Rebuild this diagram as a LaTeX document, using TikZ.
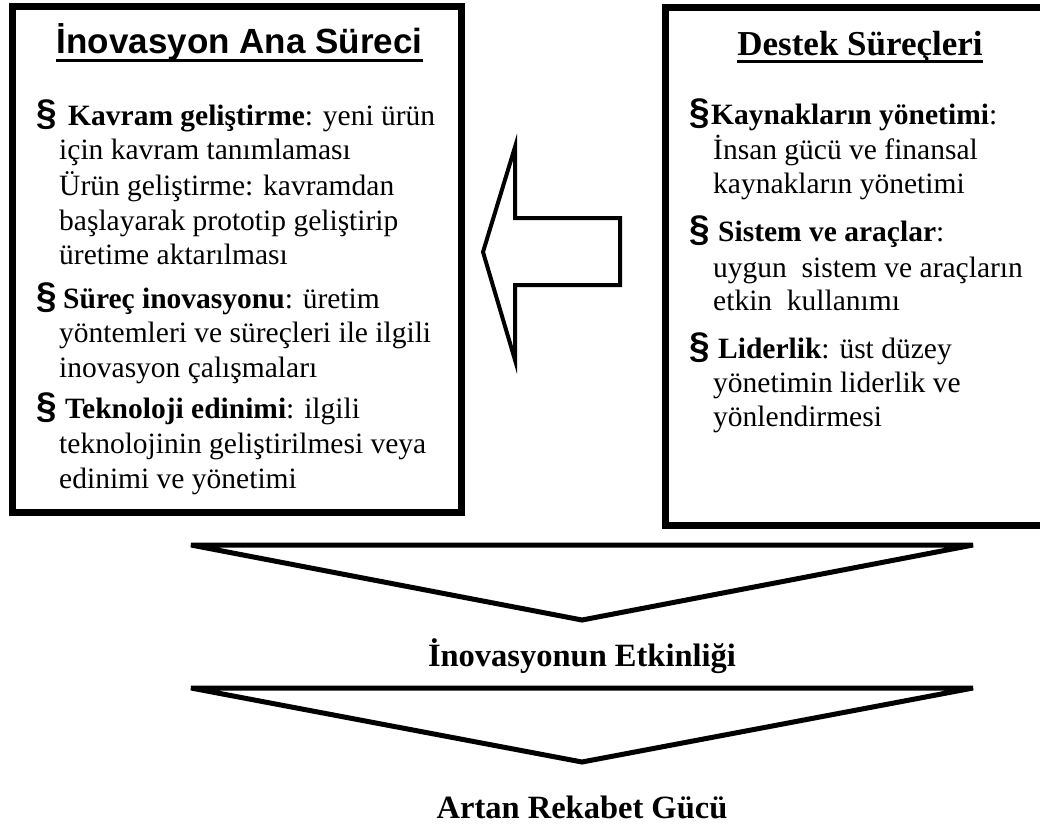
\documentclass[tikz,border=0pt]{standalone}
\usepackage{fontspec}
\setmainfont{Liberation Serif}
\newfontfamily\arialf{Liberation Sans}
\tikzset{
  boxline/.style={line width=7pt, line join=miter},
  chevline/.style={line width=5pt, line join=miter},
  arrline/.style={line width=4pt, line join=miter},
  uline/.style={line width=3pt},
  txt/.style={anchor=base west, inner sep=0pt, font=\fontsize{29.5}{34}\selectfont},
  bul/.style={anchor=base west, inner sep=0pt, font=\arialf\bfseries\fontsize{37}{37}\selectfont},
  ltitle/.style={anchor=base, inner sep=0pt, font=\arialf\bfseries\fontsize{35}{40}\selectfont},
  rtitle/.style={anchor=base, inner sep=0pt, font=\bfseries\fontsize{35}{40}\selectfont},
  btitle/.style={anchor=base, inner sep=0pt, font=\bfseries\fontsize{32.5}{38}\selectfont},
}
\begin{document}
\begin{tikzpicture}[x=1pt,y=-1pt]
\useasboundingbox (0,0) rectangle (1040,828);
\clip (0,0) rectangle (1040,828);
\fill[white] (0,0) rectangle (1040,828);
% boxes
\draw[boxline] (12,6.5) rectangle (461,512);
\draw[boxline] (665,7) rectangle (1060,525);
% left arrow
\draw[arrline] (620,218) -- (515,218) -- (515,147) -- (483,252) -- (515,360) -- (515,285) -- (620,285) -- cycle;
% chevrons
\draw[chevline] (191,545) -- (973,545) -- (582,620) -- cycle;
\draw[chevline] (191,688) -- (973,688) -- (582,762) -- cycle;
% titles
\node[ltitle] (t1) at (239.5,53) {İnovasyon Ana Süreci};
\draw[uline] ([yshift=-7pt]t1.base west) -- ([yshift=-7pt]t1.base east);
\node[rtitle] (t2) at (860,55) {Destek Süreçleri};
\draw[uline] ([yshift=-6pt]t2.base west) -- ([yshift=-6pt]t2.base east);
% left box text
\node[bul] (lb1) at (36,125) {§};
\node[txt] (l1) at (68,125) {\textbf{Kavram geliştirme}: yeni ürün};
\node[txt] (l2) at (59,159) {için kavram tanımlaması};
\node[txt] (l3) at (59,195) {Ürün geliştirme: kavramdan};
\node[txt] (l4) at (59,230) {başlayarak prototip geliştirip};
\node[txt] (l5) at (59,264) {üretime aktarılması};
\node[bul] (lb2) at (36,308) {§};
\node[txt] (l6) at (63,308) {\textbf{Süreç inovasyonu}: üretim};
\node[txt] (l7) at (59,342) {yöntemleri ve süreçleri ile ilgili};
\node[txt] (l8) at (59,377) {inovasyon çalışmaları};
\node[bul] (lb3) at (36,418) {§};
\node[txt] (l9) at (65,418) {\textbf{Teknoloji edinimi}: ilgili};
\node[txt] (l10) at (59,453) {teknolojinin geliştirilmesi veya};
\node[txt] (l11) at (59,488) {edinimi ve yönetimi};
% right box text
\node[bul] (rb1) at (689,124) {§};
\node[txt] (r1) at (711,124) {\textbf{Kaynakların yönetimi}:};
\node[txt] (r2) at (713,159) {İnsan gücü ve finansal};
\node[txt] (r3) at (713,193) {kaynakların yönetimi};
\node[bul] (rb2) at (689,241) {§};
\node[txt] (r4) at (718,241) {\textbf{Sistem ve araçlar}:};
\node[txt] (r5) at (713,277) {uygun\ \ sistem ve araçların};
\node[txt] (r6) at (713,310) {etkin\ \ kullanımı};
\node[bul] (rb3) at (689,358) {§};
\node[txt] (r7) at (718,358) {\textbf{Liderlik}: üst düzey};
\node[txt] (r8) at (713,392) {yönetimin liderlik ve};
\node[txt] (r9) at (713,426) {yönlendirmesi};
% bottom labels
\node[btitle] (e1) at (582,666) {İnovasyonun Etkinliği};
\node[btitle] (e2) at (582,818) {Artan Rekabet Gücü};
\end{tikzpicture}
\end{document}
